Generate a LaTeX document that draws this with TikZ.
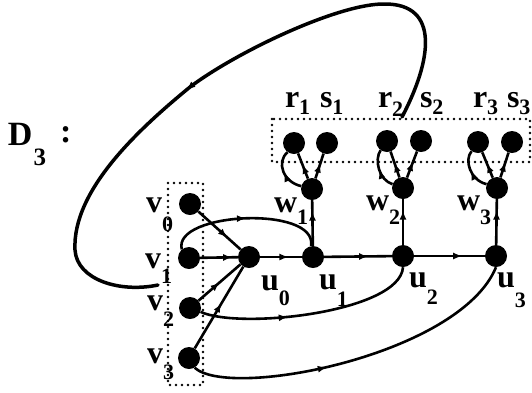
\documentclass[tikz,border=0pt]{standalone}
\usepackage{fontspec}
\setmainfont{Liberation Serif}
\usetikzlibrary{arrows.meta,decorations.markings}
\newcommand\mainfnt{\fontsize{32}{32}\selectfont\bfseries}
\newcommand\subfnt{\fontsize{22}{22}\selectfont\bfseries}
\newcommand\lbl[4]{\raisebox{0pt}[14pt][0pt]{\mainfnt #1}\kern#2\raisebox{-#3}[0pt][#3]{\subfnt #4}}
\begin{document}
\begin{tikzpicture}[x=1pt,y=-1pt,
  dot/.style={circle,fill=black,inner sep=0pt,minimum size=22pt},
  edge/.style={line width=2.6pt},
  bigedge/.style={line width=3.5pt,line cap=round},
  marr/.style={postaction={decorate,decoration={markings,mark=at position #1 with {\arrow{Latex[length=9pt,width=7pt]}}}}},
  dotbox/.style={line width=2.7pt,dash pattern=on 0pt off 6pt,line cap=round},
  lab/.style={anchor=base west,inner sep=0pt,outer sep=0pt}]
\useasboundingbox (0,0) rectangle (532,392);
% dotted boxes
\draw[dotbox] (272,119) rectangle (530,162);
\draw[dotbox] (168,183) rectangle (203,385);
% nodes
\node[dot] (v0) at (190,204) {};
\node[dot] (v1) at (189,258) {};
\node[dot] (v2) at (190,308) {};
\node[dot] (v3) at (189,358) {};
\node[dot] (u0) at (249,257) {};
\node[dot] (u1) at (313,257) {};
\node[dot] (u2) at (403,256) {};
\node[dot] (u3) at (496,256) {};
\node[dot] (w1) at (312,189) {};
\node[dot] (w2) at (403,188) {};
\node[dot] (w3) at (497,188) {};
\node[dot] (r1) at (294,143) {};
\node[dot] (s1) at (327,143) {};
\node[dot] (r2) at (387,141) {};
\node[dot] (s2) at (421,141) {};
\node[dot] (r3) at (478,142) {};
\node[dot] (s3) at (512,142) {};
% edges into u0
\draw[edge,marr=0.68] (v0) -- (u0);
\draw[edge,marr=0.85] (v1) -- (u0);
\draw[edge,marr=0.5] (v2) -- (u0);
\draw[edge,marr=0.55] (v3) -- (u0);
% curved edges from v's
\draw[edge,marr=0.5] (v1.130) .. controls (172,212) and (318,205) .. (u1.100);
\draw[edge,marr=0.4] (v2.-20) .. controls (240,330) and (400,312) .. (u2.-90);
\draw[edge,marr=0.4] (v3.-60) .. controls (230,400) and (460,355) .. (u3.-90);
% u chain
\draw[edge,marr=0.68] (u0) -- (u1);
\draw[edge,marr=0.65] (u1) -- (u2);
\draw[edge,marr=0.68] (u2) -- (u3);
\draw[edge,marr=0.75] (u1) -- (w1);
\draw[edge,marr=0.75] (u2) -- (w2);
\draw[edge,marr=0.75] (u3) -- (w3);
% w to r, s
\draw[edge,marr=0.6] (w1) -- (s1);
\draw[edge,marr=0.55] (w1) -- (r1);
\draw[edge,marr=0.5] (w1.165) .. controls (283,182) and (276,162) .. (r1.235);
\draw[edge,marr=0.6] (w2) -- (s2);
\draw[edge,marr=0.55] (w2) -- (r2);
\draw[edge,marr=0.5] (w2.160) .. controls (379,180) and (374,160) .. (r2.235);
\draw[edge,marr=0.6] (w3) -- (s3);
\draw[edge,marr=0.55] (w3) -- (r3);
\draw[edge,marr=0.5] (w3.160) .. controls (470,180) and (464,160) .. (r3.235);
% big loop
\coordinate (bs) at (402,117);
\coordinate (be) at (158,285);
\draw[bigedge,marr=0.545] (bs) .. controls (432,60) and (440,4) .. (385,4)
  .. controls (340,3) and (238,51) .. (190,87)
  .. controls (140,128) and (72,190) .. (75,250)
  .. controls (77,280) and (120,293) .. (be);
% labels
\node[lab] (dl) at (8,145) {\raisebox{0pt}[23pt][0pt]{\fontsize{34}{34}\selectfont\bfseries D}\kern1pt\raisebox{-20pt}[0pt][20pt]{\fontsize{25}{25}\selectfont\bfseries 3}};
\node[lab] (dc) at (60,142) {\raisebox{0pt}[17pt][0pt]{\fontsize{34}{34}\selectfont\bfseries :}};
\node[lab] (lv0) at (146,212) {\lbl{v}{0pt}{19pt}{0}};
\node[lab] (lv1) at (145,268) {\lbl{v}{0pt}{15pt}{1}};
\node[lab] (lv2) at (147,310) {\lbl{v}{0pt}{16pt}{2}};
\node[lab] (lv3) at (147,363) {\lbl{v}{0pt}{16pt}{3}};
\node[lab] (lu0) at (261,290) {\lbl{u}{0pt}{15pt}{0}};
\node[lab] (lu1) at (319,289) {\lbl{u}{0pt}{17pt}{1}};
\node[lab] (lu2) at (409,287) {\lbl{u}{0pt}{17pt}{2}};
\node[lab] (lu3) at (497,287) {\lbl{u}{0pt}{20pt}{3}};
\node[lab] (lw1) at (274,212) {\lbl{w}{0pt}{12pt}{1}};
\node[lab] (lw2) at (366,210) {\lbl{w}{0pt}{14pt}{2}};
\node[lab] (lw3) at (457,210) {\lbl{w}{0pt}{14pt}{3}};
\node[lab] (lr1) at (285,107) {\lbl{r}{0pt}{7pt}{1}};
\node[lab] (ls1) at (320,107) {\lbl{s}{0pt}{7pt}{1}};
\node[lab] (lr2) at (378,107) {\lbl{r}{0pt}{9pt}{2}};
\node[lab] (ls2) at (420,107) {\lbl{s}{0pt}{7pt}{2}};
\node[lab] (lr3) at (473,107) {\lbl{r}{0pt}{7pt}{3}};
\node[lab] (ls3) at (507,107) {\lbl{s}{0pt}{7pt}{3}};
\end{tikzpicture}
\end{document}
